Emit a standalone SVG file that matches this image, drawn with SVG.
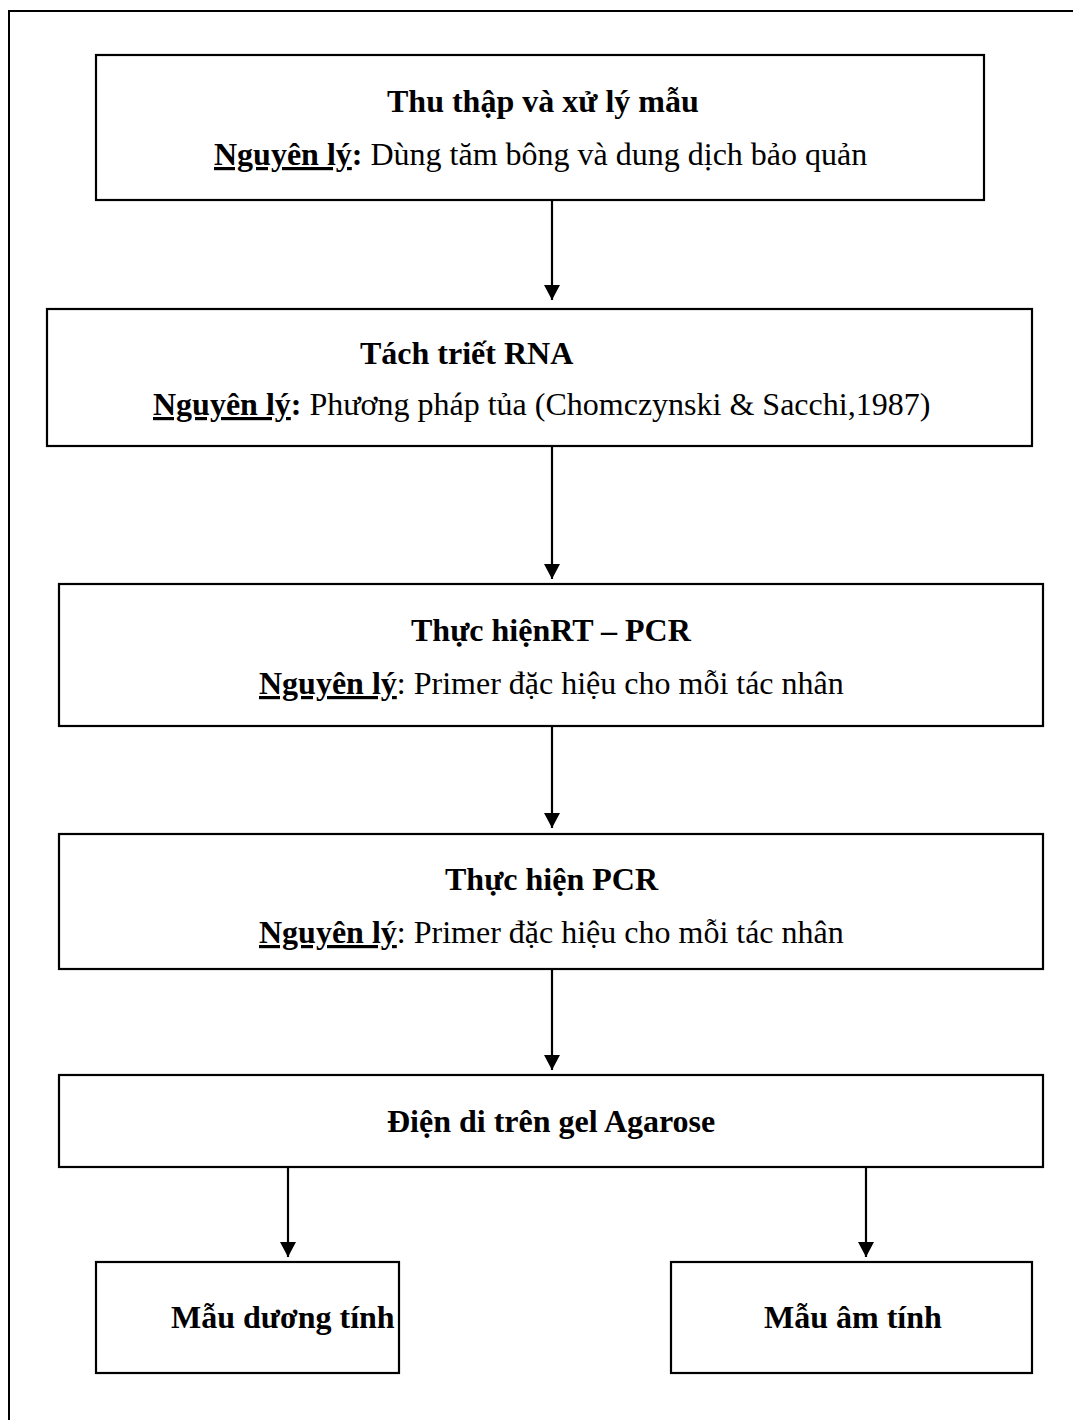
<svg xmlns="http://www.w3.org/2000/svg" width="1073" height="1420" viewBox="0 0 1073 1420">
<style>
  .box{fill:#fff;stroke:#000;stroke-width:2.2}
  .frame{fill:none;stroke:#000;stroke-width:2}
  .t{font-family:"Liberation Serif","Times New Roman",serif;font-size:32px;fill:#000}
  .b{font-weight:bold}
  .u{text-decoration:underline;text-decoration-thickness:2.5px}
  .conn{stroke:#000;stroke-width:2.2;fill:none}
</style>
<defs>
  <marker id="ah" markerUnits="userSpaceOnUse" markerWidth="18" markerHeight="18" viewBox="0 0 18 18" refX="9" refY="16" orient="0">
    <polygon points="1,1 17,1 9,16" fill="#000"/>
  </marker>
</defs>
<rect class="frame" x="9" y="11" width="1100" height="1450"/>

<g id="n1">
  <rect class="box" x="96" y="55" width="888" height="145"/>
  <text class="t b" x="387" y="112">Thu thập và xử lý mẫu</text>
  <text class="t" x="214" y="165"><tspan class="b u">Nguyên lý</tspan><tspan class="b">:</tspan> Dùng tăm bông và dung dịch bảo quản</text>
</g>
<g id="n2">
  <rect class="box" x="47" y="309" width="985" height="137"/>
  <text class="t b" x="360" y="364">Tách triết RNA</text>
  <text class="t" x="153" y="415"><tspan class="b u">Nguyên lý</tspan><tspan class="b">:</tspan> Phương pháp tủa (Chomczynski &amp; Sacchi,1987)</text>
</g>
<g id="n3">
  <rect class="box" x="59" y="584" width="984" height="142"/>
  <text class="t b" x="411" y="641">Thực hiệnRT – PCR</text>
  <text class="t" x="259" y="694"><tspan class="b u">Nguyên lý</tspan>: Primer đặc hiệu cho mỗi tác nhân</text>
</g>
<g id="n4">
  <rect class="box" x="59" y="834" width="984" height="135"/>
  <text class="t b" x="445" y="890">Thực hiện PCR</text>
  <text class="t" x="259" y="943"><tspan class="b u">Nguyên lý</tspan>: Primer đặc hiệu cho mỗi tác nhân</text>
</g>
<g id="n5">
  <rect class="box" x="59" y="1075" width="984" height="92"/>
  <text class="t b" x="387" y="1132">Điện di trên gel Agarose</text>
</g>
<g id="n6">
  <rect class="box" x="96" y="1262" width="303" height="111"/>
  <text class="t b" x="171" y="1328">Mẫu dương tính</text>
</g>
<g id="n7">
  <rect class="box" x="671" y="1262" width="361" height="111"/>
  <text class="t b" x="764" y="1328">Mẫu âm tính</text>
</g>

<g id="connectors">
  <line class="conn" x1="552" y1="200" x2="552" y2="300" marker-end="url(#ah)"/>
  <line class="conn" x1="552" y1="446" x2="552" y2="579" marker-end="url(#ah)"/>
  <line class="conn" x1="552" y1="726" x2="552" y2="828" marker-end="url(#ah)"/>
  <line class="conn" x1="552" y1="969" x2="552" y2="1070" marker-end="url(#ah)"/>
  <line class="conn" x1="288" y1="1167" x2="288" y2="1257" marker-end="url(#ah)"/>
  <line class="conn" x1="866" y1="1167" x2="866" y2="1257" marker-end="url(#ah)"/>
</g>
</svg>
